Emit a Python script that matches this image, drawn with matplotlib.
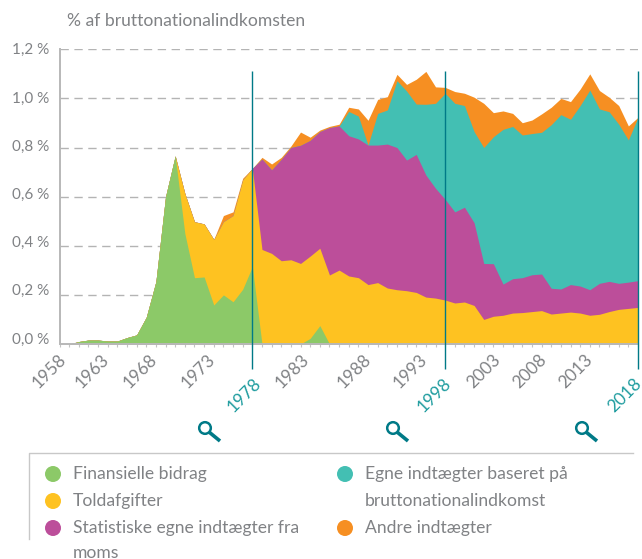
import numpy as np
import matplotlib
matplotlib.use("Agg")
import matplotlib.pyplot as plt
from matplotlib.patches import Circle

W, H = 642, 559

years = np.arange(1958, 2019)

# cumulated height of each layer, % of GNI
top_finansielle = [0, 0, .01, .016, .016, .012, .012, .026, .037, .109, .254, .60, .766,
                   .45, .27, .273, .159, .20, .172, .223, .315, 0, 0, 0, 0, 0, .023, .075, 0,
                   0, 0, 0, 0, 0, 0, 0, 0, 0, 0, 0, 0, 0, 0, 0, 0, 0, 0, 0, 0, 0, 0,
                   0, 0, 0, 0, 0, 0, 0, 0, 0, 0]
top_told = [0, 0, .01, .016, .016, .012, .012, .026, .037, .109, .254, .60, .766,
            .613, .498, .489, .426, .498, .523, .668, .715, .385, .369, .339, .343, .328, .358, .39, .281,
            .301, .277, .27, .242, .25, .228, .221, .217, .21, .191, .187, .179, .167, .171, .157, .10,
            .113, .117, .126, .128, .132, .136, .122, .126, .13, .126, .117, .121, .132, .141, .145, .149]
top_moms = [0, 0, .01, .016, .016, .012, .012, .026, .037, .109, .254, .60, .766,
            .613, .498, .489, .426, .498, .523, .668, .715, .753, .709, .752, .80, .809, .829, .865, .881,
            .888, .848, .835, .81, .81, .814, .80, .749, .772, .688, .634, .589, .538, .557, .494, .328,
            .327, .244, .266, .27, .282, .285, .227, .224, .242, .236, .221, .247, .255, .247, .252, .258]
top_bni = [0, 0, .01, .016, .016, .012, .012, .026, .037, .109, .254, .60, .766,
           .613, .498, .489, .426, .498, .523, .668, .715, .753, .709, .752, .80, .809, .829, .865, .881,
           .888, .947, .928, .81, .939, .953, 1.072, 1.03, .977, .976, .98, 1.021, .98, .971, .865, .80,
           .844, .874, .886, .851, .857, .862, .893, .934, .915, .971, 1.034, .957, .946, .895, .831, .923]
top_andre = [0, 0, .01, .016, .016, .012, .012, .026, .037, .109, .254, .60, .766,
             .613, .498, .489, .426, .523, .538, .675, .715, .76, .733, .76, .806, .863, .842, .871, .886,
             .895, .964, .957, .911, .996, 1.007, 1.098, 1.057, 1.078, 1.11, 1.047, 1.045, 1.028, 1.021, 1.005, .98,
             .942, .949, .939, .901, .912, .937, .964, 1.0, .987, 1.038, 1.10, 1.032, 1.005, .971, .888, .923]

y_ticks = [0, .2, .4, .6, .8, 1.0, 1.2]
y_labels = ['0,0 %', '0,2 %', '0,4 %', '0,6 %', '0,8 %', '1,0 %', '1,2 %']
label_years = [1958, 1963, 1968, 1973, 1978, 1983, 1988, 1993, 1998, 2003, 2008, 2013, 2018]
marked_years = [1978, 1998, 2018]

GREEN = '#8cc968'
YELLOW = '#fec221'
PURPLE = '#bc4e9a'
TEAL = '#43bfb3'
ORANGE = '#f68f22'
LINE_TEAL = '#007a87'
LABEL_TEAL = '#1f9c9f'
GREY = '#808285'

plt.rcParams['font.family'] = ['Lato', 'DejaVu Sans']

fig = plt.figure(figsize=(W / 100, H / 100), dpi=100)
ax = fig.add_axes([59.5 / W, 1 - 344 / H, (638 - 59.5) / W, (344 - 49.3) / H])

# layers, painted top down so the lower ones cover the upper ones
for top, color in [(top_andre, ORANGE), (top_bni, TEAL), (top_moms, PURPLE),
                   (top_told, YELLOW), (top_finansielle, GREEN)]:
    ax.fill_between(years, 0, top, color=color, lw=0, zorder=2)

ax.set_xlim(1958, 2018)
ax.set_ylim(0, 1.2)
ax.set_yticks(y_ticks)
ax.set_yticklabels([])
ax.yaxis.grid(True, color='#b4b4b4', lw=1, dashes=(6, 4), zorder=1)
ax.set_axisbelow(True)
ax.tick_params(axis='y', length=0)
ax.set_xticks(years)
ax.set_xticklabels([])
ax.tick_params(axis='x', length=2, width=0.8, color='#c4c4c4')
for side in ['top', 'right']:
    ax.spines[side].set_visible(False)
for side in ['left', 'bottom']:
    ax.spines[side].set_color('#b8b8b8')
    ax.spines[side].set_linewidth(1.4)
    ax.spines[side].set_zorder(3)

ax.vlines(marked_years, -0.085, 0.926, transform=ax.get_xaxis_transform(),
          color=LINE_TEAL, lw=1, clip_on=False, zorder=4)

# y labels drift a little from their gridlines in the original
y_offsets = [4, 4, 3, 1.3, .7, 0, -.7]
for val, txt, dy in zip(y_ticks, y_labels, y_offsets):
    ax.annotate(txt, (0, val), xycoords=('axes fraction', 'data'), xytext=(-10.5, dy),
                textcoords='offset pixels', ha='right', va='center',
                fontsize=11, color=GREY)

# x labels sit unevenly too
x_offsets = [-10, -15, -16, -6, -8, -8, 6, 13, -11, -10, -12, -14, -13]
for yr, dx in zip(label_years, x_offsets):
    marked = yr in marked_years
    ax.annotate(str(yr), (yr, 0), xycoords=('data', 'axes fraction'),
                xytext=(dx, -51 if marked else -27), textcoords='offset pixels',
                ha='center', va='center', rotation=45, rotation_mode='anchor',
                fontsize=12.5, color=LABEL_TEAL if marked else GREY, clip_on=False)

# overlay in pixel coordinates for title, icons and legend
ov = fig.add_axes([0, 0, 1, 1], facecolor='none')
ov.set_xlim(0, W)
ov.set_ylim(H, 0)
ov.axis('off')

ov.text(67, 21, '% af bruttonationalindkomsten', fontsize=12.6, color=GREY, va='center')

for cx in [205, 393, 582]:
    ov.add_patch(Circle((cx, 428), 5.8, fill=False, ec=LINE_TEAL, lw=1.8))
    ov.plot([cx + 4, cx + 15], [432, 441], color=LINE_TEAL, lw=2.6, solid_capstyle='butt')

ov.plot([633, 29, 29], [453, 453, 539], color='#c8c8c8', lw=1)

legend_col1 = [(474, GREEN, 'Finansielle bidrag'), (501, YELLOW, 'Toldafgifter'),
               (528, PURPLE, 'Statistiske egne indtægter fra')]
legend_col2 = [(474, TEAL, 'Egne indtægter baseret på'), (528, ORANGE, 'Andre indtægter')]
for mx, tx, entries in [(53, 73, legend_col1), (345, 365, legend_col2)]:
    for ly, color, txt in entries:
        ov.add_patch(Circle((mx, ly), 8, color=color, lw=0))
        ov.text(tx, ly, txt, fontsize=12.6, color=GREY, va='center')
ov.text(73, 552.5, 'moms', fontsize=12.6, color=GREY, va='center')
ov.text(365, 501, 'bruttonationalindkomst', fontsize=12.6, color=GREY, va='center')

fig.savefig('out.png', dpi=100)
